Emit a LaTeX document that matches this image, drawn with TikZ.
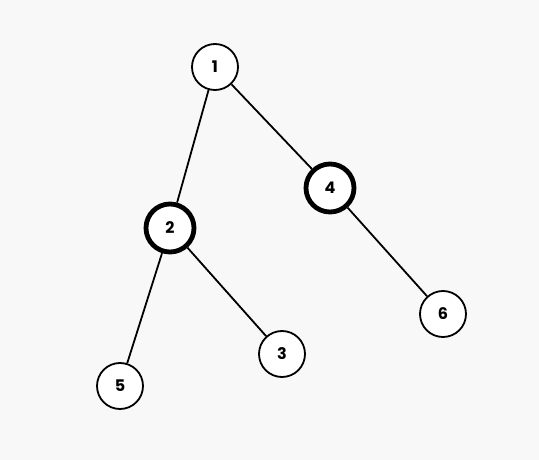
\documentclass[tikz,border=0pt]{standalone}
\usepackage{fontspec}
\setmainfont{Poppins}
\begin{document}
\begin{tikzpicture}[x=1pt,y=-1pt,
  vtx/.style={circle,draw=black,fill=white,line width=1.8pt,minimum size=46pt,inner sep=0pt,font=\bfseries\fontsize{16}{16}\selectfont},
  hot/.style={vtx,line width=4.8pt,minimum size=48pt},
  edge/.style={line width=1.8pt}]
\fill[fill={rgb,255:red,248;green,248;blue,248}] (0,0) rectangle (539,460);
\useasboundingbox (0,0) rectangle (539,460);
\node[vtx] (n1) at (215,67) {1};
\node[hot] (n2) at (170,228) {2};
\node[hot] (n4) at (330,188) {4};
\node[vtx] (n6) at (443,314) {6};
\node[vtx] (n3) at (282,354) {3};
\node[vtx] (n5) at (120,386) {5};
\draw[edge] (n1) -- (n2);
\draw[edge] (n1) -- (n4);
\draw[edge] (n4) -- (n6);
\draw[edge] (n2) -- (n3);
\draw[edge] (n2) -- (n5);
\end{tikzpicture}
\end{document}
